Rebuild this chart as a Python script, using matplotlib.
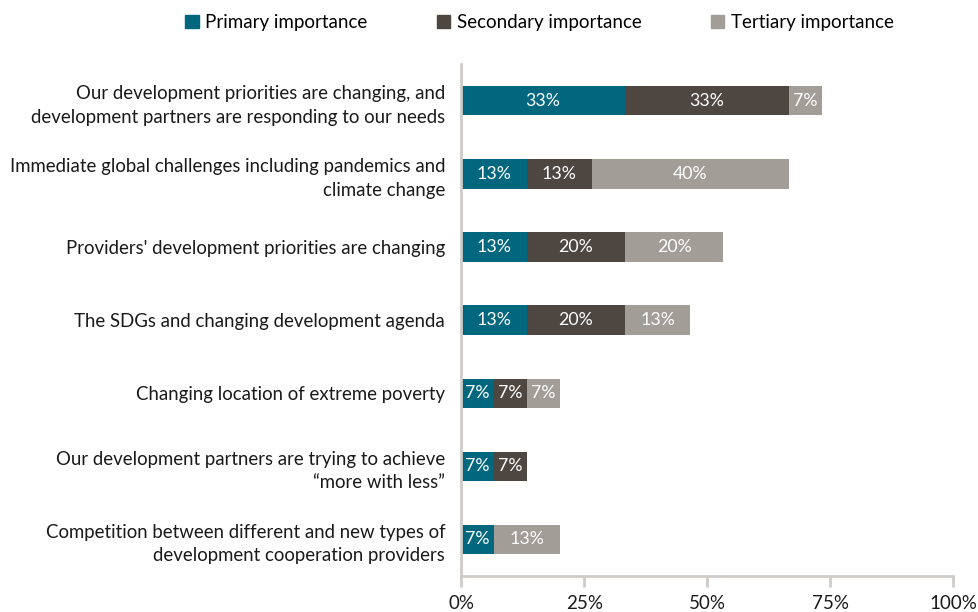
import matplotlib.pyplot as plt
from matplotlib.patches import Patch

plt.rcParams['font.family'] = ['Lato', 'DejaVu Sans']

# share of respondents (n = 15) naming each reason
categories = [
    'Our development priorities are changing, and\ndevelopment partners are responding to our needs',
    'Immediate global challenges including pandemics and\nclimate change',
    "Providers' development priorities are changing",
    'The SDGs and changing development agenda',
    'Changing location of extreme poverty',
    'Our development partners are trying to achieve\n\u201cmore with less\u201d',
    'Competition between different and new types of\ndevelopment cooperation providers',
]
primary = [33.3, 13.3, 13.3, 13.3, 6.7, 6.7, 6.7]
secondary = [33.3, 13.3, 20.0, 20.0, 6.7, 6.7, 0.0]
tertiary = [6.7, 40.0, 20.0, 13.3, 6.7, 0.0, 13.3]

series = [
    ('Primary importance', primary, '#00677f'),
    ('Secondary importance', secondary, '#4e4641'),
    ('Tertiary importance', tertiary, '#a29d97'),
]

fig = plt.figure(figsize=(9.79, 6.12), dpi=100)
ax = fig.add_axes([0.471, 0.059, 0.5026, 0.836])

ypos = list(range(len(categories)))
left = [0.0] * len(categories)
for name, vals, color in series:
    ax.barh(ypos, vals, left=left, height=0.4, color=color, label=name)
    for y, v, l in zip(ypos, vals, left):
        if v > 0:
            ax.text(l + v / 2, y, '%d%%' % round(v), ha='center', va='center',
                    color='white', fontsize=12.8)
    left = [a + b for a, b in zip(left, vals)]

ax.set_ylim(6.5, -0.5)
ax.set_xlim(0, 100)
ax.set_yticks(ypos)
ax.set_yticklabels(categories, fontsize=13.4, color='#1a1a1a', linespacing=1.45)
ax.tick_params(axis='y', length=0, pad=11.5)
ax.set_xticks([0, 25, 50, 75, 100])
ax.set_xticklabels(['0%', '25%', '50%', '75%', '100%'], fontsize=13.5, color='#1a1a1a')
ax.tick_params(axis='x', length=8, width=2, color='#cfcbc8', pad=6)

for s in ['top', 'right']:
    ax.spines[s].set_visible(False)
for s in ['left', 'bottom']:
    ax.spines[s].set_color('#cfcbc8')
    ax.spines[s].set_linewidth(2)

handles = [Patch(color=c, label=n) for n, _, c in series]
fig.legend(handles=handles, loc='upper center', bbox_to_anchor=(0.551, 1.005), ncol=3,
           frameon=False, fontsize=13.5, handlelength=0.72, handleheight=0.72,
           handletextpad=0.35, columnspacing=3.7)

fig.savefig('out.png', dpi=100)
